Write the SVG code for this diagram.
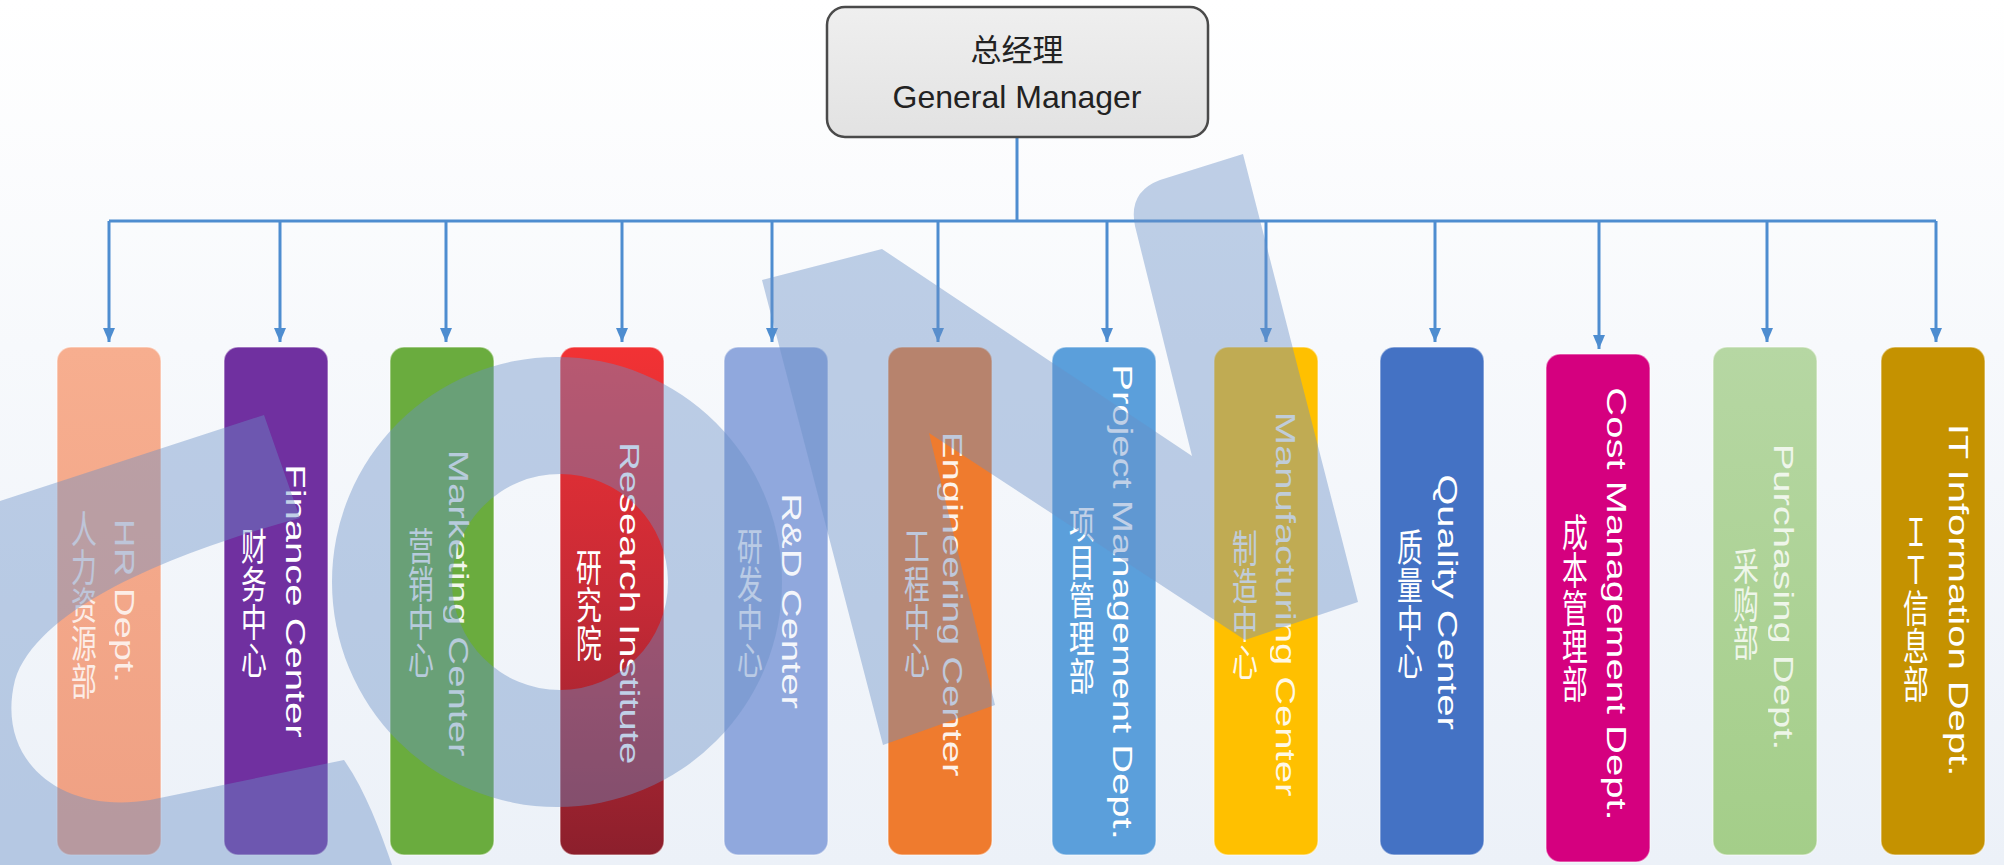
<svg xmlns="http://www.w3.org/2000/svg" width="2004" height="865" viewBox="0 0 2004 865">
<defs>
<style>
.en{font-family:"Liberation Sans",Arial,sans-serif;font-size:40px;fill:#fff;writing-mode:vertical-rl;text-anchor:middle}
.zh{font-family:"Noto Sans CJK SC","Noto Sans CJK JP",sans-serif;font-size:38px;fill:#fff;writing-mode:vertical-rl;text-anchor:middle}
.gm{font-family:"Liberation Sans",Arial,"Noto Sans CJK SC",sans-serif;font-size:32px;fill:#222;text-anchor:middle}
.gmzh{font-family:"Noto Sans CJK SC",sans-serif;font-size:31px;fill:#222;text-anchor:middle}
.conn{stroke:#4E8DD0;stroke-width:3;fill:none}
.box{stroke:#fff;stroke-opacity:.45;stroke-width:1.5}
.wm{fill:#6A8FC6;opacity:.42}
</style>
<linearGradient id="bg" x1="0" y1="0" x2="0" y2="1">
<stop offset="0" stop-color="#FFFFFF"/>
<stop offset="0.4" stop-color="#F7F9FC"/>
<stop offset="1" stop-color="#ECF1F8"/>
</linearGradient>
<linearGradient id="gmFill" x1="0" y1="0" x2="0" y2="1">
<stop offset="0" stop-color="#EFEFEF"/>
<stop offset="1" stop-color="#E2E2E2"/>
</linearGradient>
<linearGradient id="gRed" x1="0" y1="0" x2="0" y2="1">
<stop offset="0" stop-color="#F23234"/>
<stop offset="0.5" stop-color="#C62A36"/>
<stop offset="1" stop-color="#8C1F2C"/>
</linearGradient>
<linearGradient id="gHR" x1="0" y1="0" x2="0" y2="1">
<stop offset="0" stop-color="#F7AE8F"/>
<stop offset="1" stop-color="#EFA083"/>
</linearGradient>
<linearGradient id="gPur" x1="0" y1="0" x2="0" y2="1">
<stop offset="0" stop-color="#B6D7A3"/>
<stop offset="1" stop-color="#A4CE89"/>
</linearGradient>
<marker id="ah" viewBox="0 0 14 12" refX="14" refY="6" markerWidth="14" markerHeight="12" markerUnits="userSpaceOnUse" orient="auto">
<path d="M0,0 L14,6 L0,12 Z" fill="#4E8DD0"/>
</marker>
</defs>

<rect x="0" y="0" width="2004" height="865" fill="url(#bg)"/>

<g id="connectors">
<line class="conn" x1="1017" y1="137" x2="1017" y2="221"/>
<line class="conn" x1="109" y1="221" x2="1936" y2="221"/>
<line class="conn" x1="109" y1="221" x2="109" y2="342" marker-end="url(#ah)"/>
<line class="conn" x1="280" y1="221" x2="280" y2="342" marker-end="url(#ah)"/>
<line class="conn" x1="446" y1="221" x2="446" y2="342" marker-end="url(#ah)"/>
<line class="conn" x1="622" y1="221" x2="622" y2="342" marker-end="url(#ah)"/>
<line class="conn" x1="772" y1="221" x2="772" y2="342" marker-end="url(#ah)"/>
<line class="conn" x1="938" y1="221" x2="938" y2="342" marker-end="url(#ah)"/>
<line class="conn" x1="1107" y1="221" x2="1107" y2="342" marker-end="url(#ah)"/>
<line class="conn" x1="1266" y1="221" x2="1266" y2="342" marker-end="url(#ah)"/>
<line class="conn" x1="1435" y1="221" x2="1435" y2="342" marker-end="url(#ah)"/>
<line class="conn" x1="1599" y1="221" x2="1599" y2="349" marker-end="url(#ah)"/>
<line class="conn" x1="1767" y1="221" x2="1767" y2="342" marker-end="url(#ah)"/>
<line class="conn" x1="1936" y1="221" x2="1936" y2="342" marker-end="url(#ah)"/>
</g>

<g id="gm">
<rect x="827" y="7" width="381" height="130" rx="18" fill="url(#gmFill)" stroke="#4A4A4A" stroke-width="2.5"/>
<text class="gmzh" x="1017" y="61">总经理</text>
<text class="gm" x="1017" y="108">General Manager</text>
</g>

<g id="hr">
<rect class="box" x="57" y="347" width="104" height="508" rx="14" fill="url(#gHR)"/>
<g transform="translate(125,601) scale(0.68,1)"><text class="en" opacity=".8">HR Dept.</text></g>
<g transform="translate(84,605) scale(0.68,1)"><text class="zh" opacity=".8">人力资源部</text></g>
</g>
<g id="finance">
<rect class="box" x="224" y="347" width="104" height="508" rx="14" fill="#7030A0"/>
<g transform="translate(296,601) scale(0.68,1)"><text class="en">Finance Center</text></g>
<g transform="translate(254,603) scale(0.68,1)"><text class="zh">财务中心</text></g>
</g>
<g id="marketing">
<rect class="box" x="390" y="347" width="104" height="508" rx="14" fill="#6AAC3E"/>
<g transform="translate(459,603) scale(0.68,1)"><text class="en" opacity=".9">Marketing Center</text></g>
<g transform="translate(421,603) scale(0.68,1)"><text class="zh" opacity=".9">营销中心</text></g>
</g>
<g id="research">
<rect class="box" x="560" y="347" width="104" height="508" rx="14" fill="url(#gRed)"/>
<g transform="translate(630,603) scale(0.68,1)"><text class="en">Research Institute</text></g>
<g transform="translate(589,605) scale(0.68,1)"><text class="zh">研究院</text></g>
</g>
<g id="rd">
<rect class="box" x="724" y="347" width="104" height="508" rx="14" fill="#90A8DD"/>
<g transform="translate(792,601) scale(0.68,1)"><text class="en" opacity=".9">R&amp;D Center</text></g>
<g transform="translate(750,603) scale(0.68,1)"><text class="zh" opacity=".9">研发中心</text></g>
</g>
<g id="engineering">
<rect class="box" x="888" y="347" width="104" height="508" rx="14" fill="#EF7B2E"/>
<g transform="translate(953,604) scale(0.68,1)"><text class="en" opacity=".9">Engineering Center</text></g>
<g transform="translate(917,603) scale(0.68,1)"><text class="zh" opacity=".9">工程中心</text></g>
</g>
<g id="project">
<rect class="box" x="1052" y="347" width="104" height="508" rx="14" fill="#5B9FDB"/>
<g transform="translate(1123,602) scale(0.68,1)"><text class="en">Project Management Dept.</text></g>
<g transform="translate(1082,600) scale(0.68,1)"><text class="zh">项目管理部</text></g>
</g>
<g id="manufacturing">
<rect class="box" x="1214" y="347" width="104" height="508" rx="14" fill="#FFC000"/>
<g transform="translate(1286,604) scale(0.68,1)"><text class="en" opacity=".9">Manufacturing Center</text></g>
<g transform="translate(1245,605) scale(0.68,1)"><text class="zh" opacity=".9">制造中心</text></g>
</g>
<g id="quality">
<rect class="box" x="1380" y="347" width="104" height="508" rx="14" fill="#4472C4"/>
<g transform="translate(1448,602) scale(0.68,1)"><text class="en">Quality Center</text></g>
<g transform="translate(1410,604) scale(0.68,1)"><text class="zh">质量中心</text></g>
</g>
<g id="cost">
<rect class="box" x="1546" y="354" width="104" height="508" rx="14" fill="#D5007F"/>
<g transform="translate(1617,604) scale(0.68,1)"><text class="en">Cost Management Dept.</text></g>
<g transform="translate(1575,608) scale(0.68,1)"><text class="zh">成本管理部</text></g>
</g>
<g id="purchasing">
<rect class="box" x="1713" y="347" width="104" height="508" rx="14" fill="url(#gPur)"/>
<g transform="translate(1784,597) scale(0.68,1)"><text class="en" opacity=".8">Purchasing Dept.</text></g>
<g transform="translate(1746,604) scale(0.68,1)"><text class="zh" opacity=".8">采购部</text></g>
</g>
<g id="it">
<rect class="box" x="1881" y="347" width="104" height="508" rx="14" fill="#C59200"/>
<g transform="translate(1959,600) scale(0.68,1)"><text class="en">IT Information Dept.</text></g>
<g transform="translate(1916,608) scale(0.68,1)"><text class="zh">ＩＴ信息部</text></g>
</g>

<g id="watermark">
<path class="wm" d="M0,501 L264,415 L300,518 C200,545 40,600 15,680 C-5,760 60,815 150,800 L344,760 C365,790 380,830 392,865 L0,865 Z"/>
<path class="wm" fill-rule="evenodd" d="M332,582 a225,225 0 1,0 450,0 a225,225 0 1,0 -450,0 Z M452,582 a108,108 0 1,0 216,0 a108,108 0 1,0 -216,0 Z"/>
<path class="wm" d="M762,280 L882,249 L1192,456 L1135,226 Q1128,192 1160,180 L1243,154 L1358,602 L1245,640 L929,433 L995,705 L883,745 Z"/>
</g>
</svg>
